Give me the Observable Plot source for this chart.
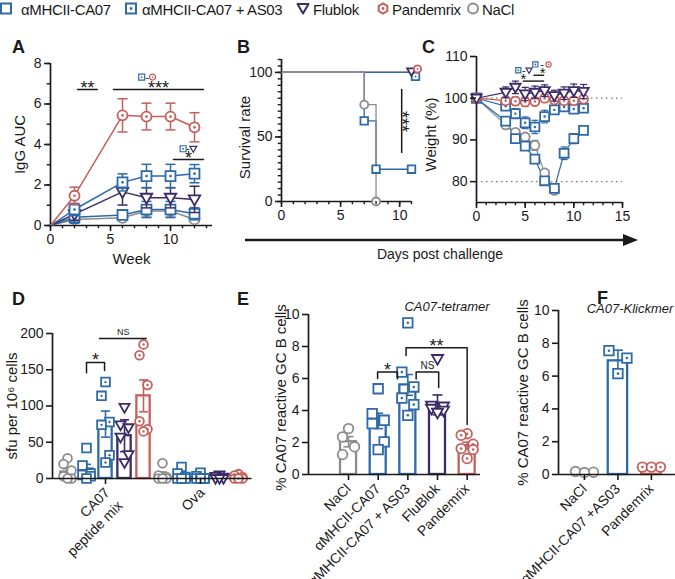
<!DOCTYPE html>
<html>
<head>
<meta charset="utf-8">
<script src="https://cdn.jsdelivr.net/npm/d3@7"></script>
<script src="https://cdn.jsdelivr.net/npm/@observablehq/plot@0.6"></script>
<style>
html,body{margin:0;padding:0;background:#fff;}
#root{position:relative;width:675px;height:579px;overflow:hidden;font-family:"Liberation Sans",Arial,Helvetica,sans-serif;color:#1a1a1a;}
#root svg{overflow:visible;}
.letter{position:absolute;font-weight:bold;font-size:18px;line-height:18px;}
.sub{position:absolute;font-style:italic;font-size:13px;line-height:13px;white-space:nowrap;transform:translateX(-50%);}
.rot{position:absolute;width:0;height:0;transform-origin:0 0;transform:rotate(-45deg);}
.rot span{position:absolute;right:0;top:-8px;font-size:14px;line-height:16px;white-space:nowrap;}
</style>
</head>
<body>
<div id="root"></div>
<script>
// ---------------- DATA ----------------
const groupKeys = ["NaCl", "CA07", "AS03", "Flublok", "Pandemrix"];
const legendKeys = ["CA07", "AS03", "Flublok", "Pandemrix", "NaCl"];
const legendLabels = ["αMHCII-CA07", "αMHCII-CA07 + AS03", "Flublok", "Pandemrix", "NaCl"];

// Panel A: IgG AUC by week (mean, sem)
const weeks = [0, 2, 6, 8, 10, 12];
const aucNaCl = [0, 0.30, 0.38, 0.72, 0.72, 0.30];
const aucCA07 = [0, 0.41, 0.52, 0.79, 0.79, 0.58];
const aucAS03 = [0, 0.79, 2.13, 2.44, 2.44, 2.56];
const aucFlublok = [0, 0.56, 1.66, 1.37, 1.37, 1.29];
const aucPandemrix = [0, 1.47, 5.44, 5.38, 5.38, 4.85];
const semNaCl = [0, 0.08, 0.1, 0.3, 0.3, 0.1];
const semCA07 = [0, 0.3, 0.15, 0.4, 0.4, 0.3];
const semAS03 = [0, 0.3, 0.42, 0.58, 0.58, 0.45];
const semFlublok = [0, 0.3, 0.65, 0.5, 0.5, 0.65];
const semPandemrix = [0, 0.42, 0.82, 0.66, 0.66, 0.72];
const sigA = [
  {x1: 2.25, x2: 3.9, y: 6.72, t: "**"},
  {x1: 5.25, x2: 12.75, y: 6.72, t: "***"},
  {x1: 10.25, x2: 12.75, y: 3.26, t: "*"}
];
const sigIconsA = [
  {x1: 7.6, x2: 8.5, y: 7.33, a: "AS03", b: "Pandemrix"},
  {x1: 11.05, x2: 11.9, y: 3.79, a: "AS03", b: "Flublok"}
];

// Panel B: survival (step data)
const survDaysNaCl = [0, 7, 8];
const survNaCl = [100, 75, 0];
const survDaysCA07 = [0, 7, 8, 11];
const survCA07 = [100, 62.5, 25, 25];
const survDaysOther = [0, 11];
const survAS03 = [100, 100];
const survFlublok = [100, 100];
const survPandemrix = [100, 100];
const sigB = [{x: 10.17, y1: 37.2, y2: 86.8, t: "***"}];

// Panel C: weight (%)
const cDays = [0, 3, 4, 5, 6, 7, 8, 9, 10, 11];
const wNaCl = [100, 93.6, 91.8, 90.7, 88.7, 82.1, 77.9];
const wCA07 = [100, 94.5, 90.3, 88.5, 85.4, 80.2, 78.4, 86.8, 90.3, 92.3];
const wAS03 = [100, 98.1, 96.3, 94.1, 93.1, 95.6, 97.2, 97.9, 97.4, 97.6];
const wFlublok = [100, 101.4, 102.6, 101.0, 101.4, 101.8, 100.6, 101.2, 101.8, 101.6];
const wPandemrix = [100, 99.4, 99.3, 99.1, 99.2, 100.0, 99.6, 99.4, 99.4, 99.8];
const wsNaCl = [0, 0.6, 0.7, 0.8, 1.2, 0.8, 0.6];
const wsCA07 = [0, 0.6, 0.8, 0.8, 0.9, 0.7, 0.8, 1.5, 1.2, 0.6];
const wsAS03 = [0, 0.8, 1.2, 1.4, 1.6, 1.5, 1.0, 0.9, 0.8, 0.9];
const wsFlublok = [0, 1.3, 1.5, 1.6, 1.5, 1.4, 1.3, 1.5, 1.6, 1.7];
const wsPandemrix = [0, 0.8, 1.0, 1.1, 1.0, 0.9, 0.8, 0.8, 0.7, 0.8];
const sigLinesC = [{x1: 4.8, x2: 7.0, y: 104.1}, {x1: 5.9, x2: 7.0, y: 105.5}];
const sigStarsC = [{x: 4.82, y: 104.3, t: "*"}, {x: 6.8, y: 105.7, t: "*"}];
const sigIconsC = [
  {x1: 4.3, x2: 5.4, y: 106.7, a: "AS03", b: "Flublok"},
  {x1: 6.05, x2: 7.4, y: 108.1, a: "AS03", b: "Pandemrix"}
];

// Panel D: sfu per 10^6 cells (order NaCl, CA07, AS03, Flublok, Pandemrix)
const dStimLine1 = ["CA07", "Ova"];
const dStimLine2 = ["peptide mix", ""];
const dPepMean = [9, 13, 75, 59, 114];
const dPepSem = [4.5, 6.5, 18, 22, 22];
const dPepPts = [
  [28, 20, 11, 3, 0, 0],
  [42, 18, 7, 5, 3, 0],
  [133, 114, 78, 74, 32, 22],
  [98, 74, 70, 57, 33, 22],
  [185, 170, 129, 79, 68, 65]
];
const dOvaMean = [5, 4, 3, 2, 3];
const dOvaSem = [4, 2.5, 1.5, 1, 1.5];
const dOvaPts = [
  [21, 4, 2, 0, 0, 0],
  [16, 7, 2, 0, 0, 0],
  [8, 3, 0, 0, 0, 0],
  [5, 3, 2, 0, 0, 0],
  [6, 4, 2, 0, 0, 0]
];
const sigBracketsD = [{x1: 1.0, x2: 1.95, y: 160, yl: 146, yr: 149, t: "*"}];
const sigLinesD = [{x1: 1.68, x2: 4.2, y: 193, t: "NS"}];

// Panel E: CA07-tetramer
const eLabels = ["NaCl", "αMHCII-CA07", "αMHCII-CA07 + AS03", "FluBlok", "Pandemrix"];
const eMean = [2.05, 3.35, 5.6, 4.35, 1.8];
const eSem = [0.32, 0.48, 0.65, 0.62, 0.22];
const ePts = [
  [2.87, 2.35, 1.73, 1.25],
  [5.36, 3.8, 3.39, 3.18, 2.04, 1.56],
  [9.48, 6.4, 5.47, 4.78, 4.37, 3.7],
  [7.23, 4.32, 4.26, 4.12, 4.0, 3.87],
  [2.55, 2.45, 1.89, 1.62, 1.56, 1.0]
];
const sigBracketsE = [
  {x1: 0.98, x2: 1.65, y: 6.4, yl: 6.0, yr: 5.97, t: "*"},
  {x1: 2.28, x2: 3.04, y: 6.4, yl: 5.97, yr: 5.44, t: "NS"},
  {x1: 1.94, x2: 4.0, y: 7.92, yl: 7.44, yr: 3.12, t: "**"}
];

// Panel F: CA07-Klickmer
const fLabels = ["NaCl", "αMHCII-CA07 +AS03", "Pandemrix"];
const fKeys = ["NaCl", "AS03", "Pandemrix"];
const fMean = [0.15, 6.93, 0.42];
const fSem = [0.05, 0.65, 0.03];
const fPts = [
  [0.14, 0.18, 0.12],
  [7.55, 7.1, 6.15],
  [0.45, 0.45, 0.45]
];

// ---------------- STYLE ----------------
const FONT = '"Liberation Sans", Arial, Helvetica, sans-serif';
const INK = "#1a1a1a";
const COL = {NaCl: "#8c8c8c", CA07: "#2e6aa6", AS03: "#2e6aa6", Flublok: "#3c2b69", Pandemrix: "#c65f5b"};
const triDown = {draw(ctx, size) { const r = Math.sqrt(size / Math.PI); ctx.moveTo(-r * 1.15, -r * 0.8); ctx.lineTo(r * 1.15, -r * 0.8); ctx.lineTo(0, r * 1.2); ctx.closePath(); }};
const capSym = {draw(ctx, size) { const r = Math.sqrt(size / Math.PI); ctx.moveTo(-r, 0); ctx.lineTo(r, 0); }};
const SYM = {NaCl: "circle", CA07: "square", AS03: "square", Flublok: triDown, Pandemrix: "circle"};
const DOTTED = {AS03: true, Pandemrix: true};
const baseStyle = {fontFamily: FONT, fontSize: "14px", overflow: "visible", background: "transparent", color: INK};

const root = document.getElementById("root");
function put(el, left, top) { el.style.position = "absolute"; el.style.left = left + "px"; el.style.top = top + "px"; root.appendChild(el); }

function markers(data, key, R, o = {}) {
  const c = COL[key];
  const r = (key === "CA07" || key === "AS03") ? R * 1.12 : R;
  const sw = o.sw || 1.8, dx = o.dx || 0, dy = o.dy || 0;
  const m = [Plot.dot(data, {x: "x", y: "y", symbol: SYM[key], r, stroke: c, fill: "white", strokeWidth: sw, dx, dy})];
  if (DOTTED[key]) m.push(Plot.dot(data, {x: "x", y: "y", r: Math.max(0.9, R * 0.27), fill: c, stroke: "none", dx, dy}));
  return m;
}
function errs(data, color, capR, sw, both = true) {
  const m = [
    Plot.ruleX(data, {x: "x", y1: d => d.y - d.e, y2: d => d.y + d.e, stroke: color, strokeWidth: sw}),
    Plot.dot(data, {x: "x", y: d => d.y + d.e, symbol: capSym, r: capR, stroke: color, fill: "none", strokeWidth: sw})
  ];
  if (both) m.push(Plot.dot(data, {x: "x", y: d => d.y - d.e, symbol: capSym, r: capR, stroke: color, fill: "none", strokeWidth: sw}));
  return m;
}
function axisLines(x0, y0) {
  return [Plot.ruleX([x0], {stroke: INK, strokeWidth: 1.7}), Plot.ruleY([y0], {stroke: INK, strokeWidth: 1.7})];
}
function yTicks(major, minor, size = 6) {
  const m = [Plot.axisY({ticks: major, tickSize: size, tickPadding: 3, label: null, strokeWidth: 1.6, tickFormat: d => String(d)})];
  if (minor) m.push(Plot.axisY({ticks: minor, tickSize: size * 0.55, tickPadding: 0, label: null, strokeWidth: 1.4, tickFormat: () => ""}));
  return m;
}
function xTicks(major, minor, size = 6) {
  const m = [Plot.axisX({ticks: major, tickSize: size, tickPadding: 3, label: null, strokeWidth: 1.6, tickFormat: d => String(d)})];
  if (minor) m.push(Plot.axisX({ticks: minor, tickSize: size * 0.55, tickPadding: 0, label: null, strokeWidth: 1.4, tickFormat: () => ""}));
  return m;
}
function yLabel(text, dx, dy = 0, fs = 15) {
  return Plot.text([text], {text: d => d, frameAnchor: "left", textAnchor: "middle", lineAnchor: "middle", rotate: -90, dx, dy, fontSize: fs, fill: INK});
}
function xLabel(text, dy, dx = 0, fs = 15) {
  return Plot.text([text], {text: d => d, frameAnchor: "bottom", textAnchor: "middle", dy, dx, fontSize: fs, fill: INK});
}
function icons(list, R) {
  const m = [];
  for (const ic of list) {
    m.push(...markers([{x: ic.x1, y: ic.y}], ic.a, R, {sw: 1.2}));
    m.push(...markers([{x: ic.x2, y: ic.y}], ic.b, R, {sw: 1.2}));
    m.push(Plot.text([ic], {x: d => (d.x1 + d.x2) / 2, y: "y", text: () => "-", fontSize: 11, fill: INK}));
  }
  return m;
}
function bracketPaths(list) {
  const pts = [];
  list.forEach((b, i) => {
    const yl = b.yl ?? b.y, yr = b.yr ?? b.y;
    pts.push({z: i, x: b.x1, y: yl}, {z: i, x: b.x1, y: b.y}, {z: i, x: b.x2, y: b.y}, {z: i, x: b.x2, y: yr});
  });
  return Plot.line(pts, {x: "x", y: "y", z: "z", stroke: INK, strokeWidth: 1.5});
}
function sigText(list, fs, dy = 0) {
  return Plot.text(list, {x: d => d.x ?? (d.x1 + d.x2) / 2, y: "y", text: "t", fontSize: fs, dy, fill: INK});
}
function barMarks(pos, mean, sem, pts, key, halfW, R, jit, ppu, capR) {
  const c = COL[key];
  const sorted = pts.slice().sort((a, b) => b - a);
  const ptData = sorted.map((v, i) => ({x: pos + jit[i % jit.length] / ppu, y: v}));
  return [
    Plot.rect([{x1: pos - halfW, x2: pos + halfW, y2: mean}], {x1: "x1", x2: "x2", y1: 0, y2: "y2", stroke: c, fill: "white", strokeWidth: 2.3}),
    ...errs([{x: pos, y: mean, e: sem}], c, capR, 1.6),
    ...markers(ptData, key, R)
  ];
}

// ---------------- LEGEND ----------------
(function legend() {
  const ns = "http://www.w3.org/2000/svg";
  const svg = document.createElementNS(ns, "svg");
  svg.setAttribute("width", 675); svg.setAttribute("height", 24);
  const iconX = [6, 131, 303, 383, 473];
  const textX = [21, 142, 313, 392, 482];
  legendKeys.forEach((k, i) => {
    const c = COL[k], cx = iconX[i], cy = 8.5;
    let s = "";
    if (k === "CA07" || k === "AS03") {
      s += `<rect x="${cx - 5}" y="${cy - 5}" width="10" height="10" fill="white" stroke="${c}" stroke-width="2"/>`;
      if (k === "AS03") s += `<rect x="${cx - 1.3}" y="${cy - 1.3}" width="2.6" height="2.6" fill="${c}"/>`;
    } else if (k === "Flublok") {
      s += `<polygon points="${cx - 5.5},${cy - 4.5} ${cx + 5.5},${cy - 4.5} ${cx},${cy + 5}" fill="white" stroke="${c}" stroke-width="2" stroke-linejoin="round"/>`;
    } else if (k === "Pandemrix") {
      const p = d3.range(6).map(j => { const a = Math.PI / 6 + j * Math.PI / 3; return `${cx + 5 * Math.cos(a)},${cy + 5 * Math.sin(a)}`; }).join(" ");
      s += `<polygon points="${p}" fill="white" stroke="${c}" stroke-width="2"/><circle cx="${cx}" cy="${cy}" r="1.4" fill="${c}"/>`;
    } else {
      s += `<circle cx="${cx}" cy="${cy}" r="5" fill="white" stroke="${c}" stroke-width="2"/>`;
    }
    s += `<text x="${textX[i]}" y="14.5" font-family='${FONT}' font-size="15" fill="${INK}" letter-spacing="-0.35">${legendLabels[i]}</text>`;
    svg.insertAdjacentHTML("beforeend", s);
  });
  put(svg, 0, 0);
})();

// ---------------- PANEL A ----------------
(function panelA() {
  const series = [["NaCl", aucNaCl, semNaCl], ["CA07", aucCA07, semCA07], ["Flublok", aucFlublok, semFlublok], ["AS03", aucAS03, semAS03], ["Pandemrix", aucPandemrix, semPandemrix]];
  const marks = [...axisLines(0, 0)];
  for (const [k, ys, es] of series) {
    const d = weeks.map((x, i) => ({x, y: ys[i], e: es[i]}));
    marks.push(Plot.line(d, {x: "x", y: "y", stroke: COL[k], strokeWidth: 1.5}));
  }
  for (const [k, ys, es] of series) {
    const d = weeks.map((x, i) => ({x, y: ys[i], e: es[i]})).filter(p => p.x > 0);
    marks.push(...errs(d, COL[k], 5, 1.5), ...markers(d, k, 5));
  }
  marks.push(bracketPaths(sigA), sigText(sigA, 18, -1), ...icons(sigIconsA, 3));
  marks.push(...yTicks([0, 2, 4, 6, 8], d3.range(0, 9)), ...xTicks([0, 5, 10], d3.range(0, 14)));
  marks.push(yLabel("IgG AUC", -30), xLabel("Week", 38));
  const svg = Plot.plot({width: 225, height: 250, marginLeft: 50, marginRight: 13, marginTop: 33, marginBottom: 55,
    x: {domain: [0, 13.5]}, y: {domain: [0, 8]}, style: baseStyle, marks});
  put(svg, 0, 30);
})();

// ---------------- PANEL B ----------------
(function panelB() {
  const mk = (days, vals) => days.map((x, i) => ({x, y: vals[i]}));
  const nacl = mk(survDaysNaCl, survNaCl), ca07 = mk(survDaysCA07, survCA07);
  const as03 = mk(survDaysOther, survAS03), flu = mk(survDaysOther, survFlublok), pan = mk(survDaysOther, survPandemrix);
  const L = (d, k) => Plot.line(d, {x: "x", y: "y", curve: "step-after", stroke: COL[k], strokeWidth: 1.3});
  const marks = [
    ...axisLines(0, 0),
    L(pan, "Pandemrix"), L(flu, "Flublok"), L(as03, "AS03"), L(ca07, "CA07"), L(nacl, "NaCl"),
    ...markers(ca07.slice(1), "CA07", 3.8),
    ...markers(nacl.slice(1), "NaCl", 4),
    ...markers(as03.slice(1), "AS03", 3.8, {dx: 4, dy: 4}),
    ...markers(flu.slice(1), "Flublok", 3.8, {dy: -1}),
    ...markers(pan.slice(1), "Pandemrix", 3.6, {dx: 6, dy: -3.5}),
    Plot.ruleX(sigB, {x: "x", y1: "y1", y2: "y2", stroke: INK, strokeWidth: 1.5}),
    Plot.text(sigB, {x: "x", y: d => (d.y1 + d.y2) / 2, text: "t", rotate: 90, fontSize: 18, fill: INK}),
    ...yTicks([0, 50, 100], d3.range(0, 111, 5)), ...xTicks([0, 5, 10], d3.range(0, 12)),
    yLabel("Survival rate", -36, 7)
  ];
  const svg = Plot.plot({width: 200, height: 200, marginLeft: 61, marginRight: 9, marginTop: 29, marginBottom: 29,
    x: {domain: [0, 11]}, y: {domain: [0, 110]}, style: baseStyle, marks});
  put(svg, 220, 30);
})();

// ---------------- ARROW ----------------
(function arrow() {
  const ns = "http://www.w3.org/2000/svg";
  const svg = document.createElementNS(ns, "svg");
  svg.setAttribute("width", 420); svg.setAttribute("height", 30);
  svg.innerHTML = `<line x1="0" y1="10" x2="382" y2="10" stroke="${INK}" stroke-width="2.5"/>
    <polygon points="378,4 393,10 378,16" fill="${INK}"/>
    <text x="195" y="29" text-anchor="middle" font-family='${FONT}' font-size="14" fill="${INK}">Days post challenge</text>`;
  put(svg, 245, 230);
})();

// ---------------- PANEL C ----------------
(function panelC() {
  const series = [["NaCl", wNaCl, wsNaCl], ["CA07", wCA07, wsCA07], ["AS03", wAS03, wsAS03], ["Pandemrix", wPandemrix, wsPandemrix], ["Flublok", wFlublok, wsFlublok]];
  const marks = [
    Plot.ruleY([100, 80], {stroke: "#777", strokeDasharray: "1.5,3.5", strokeWidth: 1.2}),
    ...axisLines(0, 75)
  ];
  for (const [k, ys, es] of series) {
    const d = ys.map((y, i) => ({x: cDays[i], y, e: es[i]}));
    marks.push(Plot.line(d, {x: "x", y: "y", stroke: COL[k], strokeWidth: 1.2}));
  }
  for (const [k, ys, es] of series) {
    const d = ys.map((y, i) => ({x: cDays[i], y, e: es[i]}));
    marks.push(...errs(d.filter(p => p.e > 0), COL[k], 3.5, 1.2), ...markers(d, k, 4.5, {sw: 1.8}));
  }
  marks.push(Plot.ruleY(sigLinesC, {x1: "x1", x2: "x2", y: "y", stroke: INK, strokeWidth: 1.4}), sigText(sigStarsC, 15, -1), ...icons(sigIconsC, 2.6));
  marks.push(...yTicks([80, 90, 100, 110]), ...xTicks([0, 5, 10, 15], d3.range(0, 16)));
  marks.push(yLabel("Weight (%)", -45, 5));
  const svg = Plot.plot({width: 275, height: 200, marginLeft: 76, marginRight: 53, marginTop: 26, marginBottom: 28,
    x: {domain: [0, 15]}, y: {domain: [75, 110]}, style: baseStyle, marks});
  put(svg, 400, 30);
})();

// ---------------- PANEL D ----------------
(function panelD() {
  const marks = [];
  const jit = [0, -4, 4, -4, 4, 0];
  groupKeys.forEach((k, b) => {
    marks.push(...barMarks(b, dPepMean[b], dPepSem[b], dPepPts[b], k, 0.35, 4.4, jit, 19, 4.5));
    marks.push(...barMarks(5 + b, dOvaMean[b], dOvaSem[b], dOvaPts[b], k, 0.35, 4.4, jit, 19, 4.5));
  });
  marks.push(...axisLines(-0.79, 0));
  marks.push(bracketPaths(sigBracketsD), sigText([{x: 1.47, y: 160, t: "*"}], 18, -2));
  marks.push(Plot.ruleY(sigLinesD, {x1: "x1", x2: "x2", y: "y", stroke: INK, strokeWidth: 1.5}));
  marks.push(Plot.text(sigLinesD, {x: d => (d.x1 + d.x2) / 2, y: "y", text: "t", fontSize: 9, dy: -6, fill: INK}));
  marks.push(...yTicks([0, 50, 100, 150, 200]));
  marks.push(Plot.axisX({ticks: [2, 7], tickSize: 6, label: null, strokeWidth: 1.6, tickFormat: () => ""}));
  marks.push(yLabel("sfu per 10⁶ cells", -40, 0));
  const H = 260, MB = 72, LEFT = 0, TOP = 290;
  const svg = Plot.plot({width: 255, height: H, marginLeft: 52, marginRight: 3.5, marginTop: 43, marginBottom: MB,
    x: {domain: [-0.79, 9.71]}, y: {domain: [0, 200]}, style: baseStyle, marks});
  put(svg, LEFT, TOP);
  // rotated stimulus labels, anchored with the plot's own x scale
  const xs = svg.scale("x");
  const rows = [[2, dStimLine1[0], 0], [2, dStimLine2[0], 1], [7, dStimLine1[1], 0]];
  rows.forEach(([v, t, li]) => {
    const wrap = document.createElement("div");
    wrap.className = "rot";
    const span = document.createElement("span");
    span.textContent = t;
    wrap.appendChild(span);
    put(wrap, LEFT + xs.apply(v) + 2 + li * 13, TOP + H - MB + 12 + li * 13);
  });
})();

// ---------------- PANEL E ----------------
(function panelE() {
  const marks = [];
  const jit = [0, -6, 6, -6, 6, 0];
  groupKeys.forEach((k, b) => {
    marks.push(...barMarks(b, eMean[b], eSem[b], ePts[b], k, 0.27, 4.8, jit, 29.66, 5));
  });
  marks.push(...axisLines(-1.35, 0));
  const starLike = sigBracketsE.filter(d => d.t !== "NS"), ns = sigBracketsE.filter(d => d.t === "NS");
  marks.push(bracketPaths(sigBracketsE), sigText(starLike, 18, -2), sigText(ns, 10, -6));
  marks.push(...yTicks([0, 2, 4, 6, 8, 10]));
  marks.push(Plot.axisX({ticks: [0, 1, 2, 3, 4], tickSize: 6, tickPadding: 6, label: null, strokeWidth: 1.6, tickRotate: -45,
    tickFormat: d => eLabels[d], fontSize: 14}));
  marks.push(yLabel("% CA07 reactive GC B cells", -27, 3));
  const svg = Plot.plot({width: 240, height: 289, marginLeft: 58, marginRight: 10, marginTop: 24, marginBottom: 105,
    x: {domain: [-1.35, 4.45]}, y: {domain: [0, 10]}, style: baseStyle, marks});
  put(svg, 250, 290);
})();

// ---------------- PANEL F ----------------
(function panelF() {
  const marks = [];
  const jit = [-9, 9, 0];
  fKeys.forEach((k, b) => {
    marks.push(...barMarks(b, fMean[b], fSem[b], fPts[b], k, 0.29, 4.8, jit, 33.5, 5));
  });
  marks.push(...axisLines(-0.776, 0));
  marks.push(...yTicks([0, 2, 4, 6, 8, 10]));
  marks.push(Plot.axisX({ticks: [0, 1, 2], tickSize: 6, tickPadding: 6, label: null, strokeWidth: 1.6, tickRotate: -45,
    tickFormat: d => fLabels[d], fontSize: 14}));
  marks.push(yLabel("% CA07 reactive GC B cells", -35, 0));
  const svg = Plot.plot({width: 175, height: 289, marginLeft: 58, marginRight: 0, marginTop: 20, marginBottom: 105,
    x: {domain: [-0.776, 2.72]}, y: {domain: [0, 10]}, style: baseStyle, marks});
  put(svg, 500, 290);
})();

// ---------------- LETTERS & SUBTITLES ----------------
[["A", 12, 38], ["B", 237, 38], ["C", 422, 38], ["D", 12, 290], ["E", 237, 290], ["F", 597, 289]].forEach(([t, x, y]) => {
  const el = document.createElement("div"); el.className = "letter"; el.textContent = t; put(el, x, y);
});
[["CA07-tetramer", 447, 300], ["CA07-Klickmer", 630, 302]].forEach(([t, x, y]) => {
  const el = document.createElement("div"); el.className = "sub"; el.textContent = t; put(el, x, y);
});
</script>
</body>
</html>
